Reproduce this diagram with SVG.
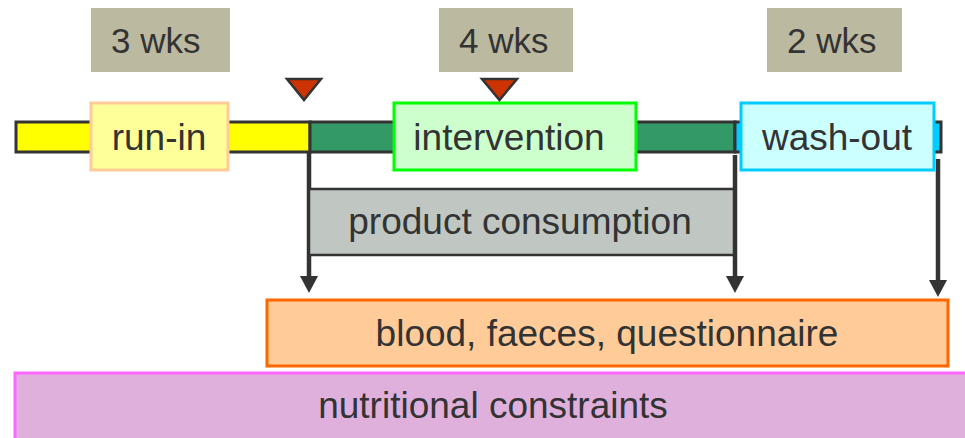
<svg xmlns="http://www.w3.org/2000/svg" width="965" height="438" viewBox="0 0 965 438">
  <style>
    text { font-family: "Liberation Sans", Arial, sans-serif; font-size: 37px; fill: #333333; }
    .mid { text-anchor: middle; }
    .wkt { font-size: 35px; }
    .wk { fill: #BBB9A0; }
    .bar { stroke: #333333; stroke-width: 3; }
    .tri { fill: #CC3300; stroke: #333333; stroke-width: 2.5; stroke-linejoin: miter; }
    .conn { stroke: #333333; stroke-width: 4.5; fill: none; }
  </style>
  <defs>
    <marker id="arrow" viewBox="0 0 18 18" markerWidth="18" markerHeight="18" markerUnits="userSpaceOnUse" refX="0" refY="9" orient="auto">
      <path d="M0,0 L17,9 L0,18 z" fill="#333333"/>
    </marker>
  </defs>

  <g id="label-3wks">
    <rect class="wk" x="91" y="8" width="139" height="64"/>
    <text class="wkt" x="111" y="53">3 wks</text>
  </g>
  <g id="label-4wks">
    <rect class="wk" x="439" y="8" width="134" height="64"/>
    <text class="wkt" x="459" y="53">4 wks</text>
  </g>
  <g id="label-2wks">
    <rect class="wk" x="767" y="8" width="135" height="64"/>
    <text class="wkt" x="787" y="53">2 wks</text>
  </g>

  <g id="timeline-bar">
    <rect class="bar" x="16" y="122" width="294" height="30" fill="#FFFF00"/>
    <rect class="bar" x="310" y="122" width="425" height="30" fill="#339966"/>
    <rect class="bar" x="735" y="122" width="206" height="30" fill="#00CCFF"/>
  </g>

  <g id="marker-1">
    <polygon class="tri" points="287,79 321,79 304,100"/>
  </g>
  <g id="marker-2">
    <polygon class="tri" points="482,79 517,79 499.5,100"/>
  </g>

  <g id="connectors">
    <line class="conn" x1="309" y1="152" x2="309" y2="276" marker-end="url(#arrow)"/>
    <line class="conn" x1="735" y1="155" x2="735" y2="276" marker-end="url(#arrow)"/>
    <line class="conn" x1="938" y1="159" x2="938" y2="280" marker-end="url(#arrow)"/>
  </g>

  <g id="run-in">
    <rect x="91" y="103" width="137" height="67" fill="#FFFF99" stroke="#FFCC99" stroke-width="3"/>
    <text class="mid" x="159" y="150">run-in</text>
  </g>
  <g id="intervention">
    <rect x="394" y="103" width="242" height="67" fill="#CCFFCC" stroke="#00FF00" stroke-width="3"/>
    <text class="mid" x="509" y="150">intervention</text>
  </g>
  <g id="wash-out">
    <rect x="741" y="103" width="193" height="67" fill="#CCFFFF" stroke="#00CCFF" stroke-width="3"/>
    <text class="mid" x="837" y="150">wash-out</text>
  </g>

  <g id="product-consumption">
    <rect x="309" y="189" width="425" height="66" fill="#C0C6C2" stroke="#333333" stroke-width="2.5"/>
    <text class="mid" x="520" y="234">product consumption</text>
  </g>

  <g id="sampling">
    <rect x="267" y="300" width="681" height="66" fill="#FFCC99" stroke="#FF6600" stroke-width="3"/>
    <text class="mid" x="607" y="346">blood, faeces, questionnaire</text>
  </g>

  <g id="nutritional-constraints">
    <rect x="15" y="373" width="962" height="70" fill="#E0B0DC" stroke="#FF66FF" stroke-width="3"/>
    <text class="mid" x="493" y="418">nutritional constraints</text>
  </g>
</svg>
